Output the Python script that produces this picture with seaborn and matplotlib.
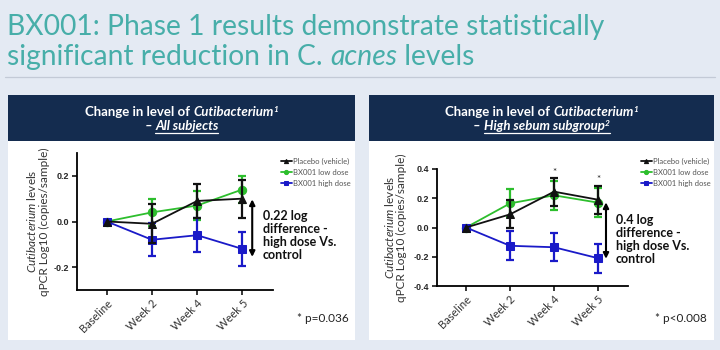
import matplotlib
matplotlib.use('Agg')
import matplotlib.pyplot as plt
import numpy as np
import pandas as pd
import seaborn as sns
from matplotlib.patches import Rectangle
from matplotlib.lines import Line2D

# ---- data ----
timepoints = ['Baseline', 'Week 2', 'Week 4', 'Week 5']
groups = ['Placebo (vehicle)', 'BX001 low dose', 'BX001 high dose']

# all subjects
all_placebo = [0.0, -0.01, 0.09, 0.10]
all_placebo_err = [0.0, 0.085, 0.075, 0.083]
all_low = [0.0, 0.04, 0.07, 0.14]
all_low_err = [0.0, 0.06, 0.065, 0.058]
all_high = [0.0, -0.08, -0.06, -0.12]
all_high_err = [0.0, 0.072, 0.075, 0.073]

# high sebum subgroup
seb_placebo = [0.0, 0.09, 0.245, 0.19]
seb_placebo_err = [0.0, 0.095, 0.095, 0.097]
seb_low = [0.0, 0.165, 0.22, 0.17]
seb_low_err = [0.0, 0.095, 0.097, 0.10]
seb_high = [0.0, -0.125, -0.135, -0.21]
seb_high_err = [0.0, 0.10, 0.097, 0.10]

colors = {'Placebo (vehicle)': '#111111', 'BX001 low dose': '#2DBE2D', 'BX001 high dose': '#1A1AC8'}
markers = {'Placebo (vehicle)': '^', 'BX001 low dose': 'o', 'BX001 high dose': 's'}

W, H = 720, 350
BG = '#E4EAF3'
NAVY = '#142C4F'
TEAL = '#47AEA9'
FONT = 'Lato'

sns.set_style('white')
plt.rcParams['font.family'] = [FONT, 'DejaVu Sans']
plt.rcParams['mathtext.fontset'] = 'custom'
plt.rcParams['mathtext.it'] = FONT + ':italic'
plt.rcParams['mathtext.rm'] = FONT

fig = plt.figure(figsize=(W / 100, H / 100), dpi=100, facecolor=BG)
rend = fig.canvas.get_renderer()


def px_w(s, **props):
    # width of a string in pixels, counting trailing spaces
    t1 = fig.text(0, 0, '|' + s + '|', **props)
    t2 = fig.text(0, 0, '||', **props)
    w = t1.get_window_extent(rend).width - t2.get_window_extent(rend).width
    t1.remove()
    t2.remove()
    return w


def rich_text(x, y, pieces, ha='left', **common):
    # pieces of differently styled text on one baseline, x/y in pixels from top-left
    items = []
    for s, kw in pieces:
        props = dict(common)
        props.update(kw)
        dy = props.pop('dy', 0)
        items.append((s, props, dy, px_w(s, **props)))
    total = sum(it[3] for it in items)
    x0 = x - total / 2 if ha == 'center' else x
    spans = []
    for s, props, dy, w in items:
        fig.text(x0 / W, (H - y + dy) / H, s, va='baseline', ha='left', **props)
        spans.append((x0, x0 + w))
        x0 += w
    return spans


def hline_px(x1, x2, y, color, lw):
    fig.add_artist(Line2D([x1 / W, x2 / W], [(H - y) / H] * 2, color=color, lw=lw,
                          transform=fig.transFigure))


# ---- title ----
title_props = dict(fontsize=20.3, color=TEAL)
rich_text(7, 35, [('BX001: Phase 1 results demonstrate statistically', {})], **title_props)
rich_text(7, 65, [('significant reduction in C. ', {}), ('acnes', {'fontstyle': 'italic'}),
                  (' levels', {})], **title_props)
hline_px(5, 715, 77, '#C3CAD6', 0.9)

# ---- panels ----
panels = [(8, 355), (369, 714)]
for x1, x2 in panels:
    fig.add_artist(Rectangle((x1 / W, 1 - 340 / H), (x2 - x1) / W, 245 / H, facecolor='white',
                             edgecolor='none', transform=fig.transFigure, zorder=0))
    fig.add_artist(Rectangle((x1 / W, 1 - 141 / H), (x2 - x1) / W, 46 / H, facecolor=NAVY,
                             edgecolor='none', transform=fig.transFigure, zorder=0))

head = dict(fontsize=9.5, color='white', fontweight='bold')
subs = ['All subjects', 'High sebum subgroup']
for (x1, x2), sub in zip(panels, subs):
    xc = (x1 + x2) / 2
    rich_text(xc, 116, [('Change in level of ', {}), ('Cutibacterium', {'fontstyle': 'italic'}),
                        ('1', {'fontstyle': 'italic', 'fontsize': 6, 'dy': 4})], ha='center', **head)
    pcs = [('– ', {'fontstyle': 'italic'}), (sub, {'fontstyle': 'italic'})]
    if sub.startswith('High'):
        pcs.append(('2', {'fontstyle': 'italic', 'fontsize': 6, 'dy': 4}))
    sp = rich_text(xc, 130, pcs, ha='center', **head)
    hline_px(sp[1][0], sp[-1][1], 132.5, 'white', 0.9)


def draw_panel(rect, placebo, p_err, low, l_err, high, h_err, ylim, yticks):
    ax = fig.add_axes(rect)
    ax.set_facecolor('none')
    df = pd.DataFrame({'time': timepoints * 3,
                       'pos': list(range(len(timepoints))) * 3,
                       'value': placebo + low + high,
                       'err': p_err + l_err + h_err,
                       'group': np.repeat(groups, len(timepoints))})
    for name in [groups[1], groups[2], groups[0]]:
        sub = df[df.group == name]
        c = colors[name]
        ax.errorbar(sub.pos[1:], sub.value[1:], yerr=sub.err[1:], fmt='none', ecolor=c,
                    elinewidth=1.6, capsize=3, capthick=1.6)
        sns.lineplot(data=sub, x='pos', y='value', ax=ax, color=c, marker=markers[name],
                     markersize=6, markeredgecolor=c, lw=1.3, label=name)
    ax.set_xlim(-0.66, 3.68)
    ax.set_ylim(*ylim)
    ax.set_xticks(range(len(timepoints)))
    ax.set_xticklabels(timepoints, rotation=45, ha='right', rotation_mode='anchor',
                       fontsize=8, color='#333333')
    ax.set_yticks(yticks)
    ax.set_yticklabels([f'{v:.1f}' for v in yticks], fontsize=6.5, fontweight='bold',
                       family='Liberation Sans')
    ax.tick_params(axis='both', direction='out', length=3.5, width=1.1, color='black',
                   left=True, bottom=True, pad=2)
    sns.despine(ax=ax)
    for s in ['left', 'bottom']:
        ax.spines[s].set_linewidth(1.3)
        ax.spines[s].set_color('black')
    ax.set_xlabel('')
    ax.set_ylabel(r'$\mathit{Cutibacterium}$ levels' + '\nqPCR Log10 (copies/sample)',
                  fontsize=8.5, color='#333333', linespacing=1.05)
    return ax


ax1 = draw_panel([77 / W, 1 - 290 / H, 196 / W, 137 / H], all_placebo, all_placebo_err,
                 all_low, all_low_err, all_high, all_high_err, (-0.3, 0.3), [-0.2, 0.0, 0.2])
ax2 = draw_panel([437 / W, 1 - 286 / H, 191 / W, 117 / H], seb_placebo, seb_placebo_err,
                 seb_low, seb_low_err, seb_high, seb_high_err, (-0.4, 0.4),
                 [-0.4, -0.2, 0.0, 0.2, 0.4])
ax1.yaxis.set_label_coords(-0.14, 0.5)
ax2.yaxis.set_label_coords(-0.155, 0.5)

# legends
for ax, lx in [(ax1, 277), (ax2, 637)]:
    h, l = ax.get_legend_handles_labels()
    order = [l.index(g) for g in groups]
    ax.legend([h[i] for i in order], [l[i] for i in order], loc='upper left',
              bbox_to_anchor=(lx / W, 1 - 154 / H), bbox_transform=fig.transFigure,
              frameon=False, fontsize=5.5, handlelength=1.4, handletextpad=0.25,
              labelspacing=0.5, borderpad=0, markerscale=0.5, labelcolor='#555555')

# difference arrows + notes
arrow = dict(arrowstyle='<|-|>', color='black', lw=1.5, mutation_scale=8, shrinkA=0, shrinkB=0)
ax1.annotate('', xy=(3.22, 0.097), xytext=(3.22, -0.155), arrowprops=arrow, annotation_clip=False)
ax1.text(3.46, 0.05, '0.22 log\ndifference -\nhigh dose Vs.\ncontrol', va='top', ha='left',
         fontsize=9, fontweight='bold', linespacing=1.1, clip_on=False, color='#111111')
ax2.annotate('', xy=(3.18, 0.172), xytext=(3.18, -0.214), arrowprops=arrow, annotation_clip=False)
ax2.text(3.41, 0.095, '0.4 log\ndifference -\nhigh dose Vs.\ncontrol', va='top', ha='left',
         fontsize=9, fontweight='bold', linespacing=1.1, clip_on=False, color='#111111')

# significance stars (sebum subgroup)
for xi, yi in [(2, 0.375), (3, 0.325)]:
    ax2.text(xi, yi, '*', ha='center', va='center', fontsize=7, color='#222222')

rich_text(297, 322, [('* p=0.036', {})], fontsize=8.5, color='#222222')
rich_text(655, 322, [('* p<0.008', {})], fontsize=8.5, color='#222222')

fig.savefig('out.png', dpi=100, facecolor=BG)
